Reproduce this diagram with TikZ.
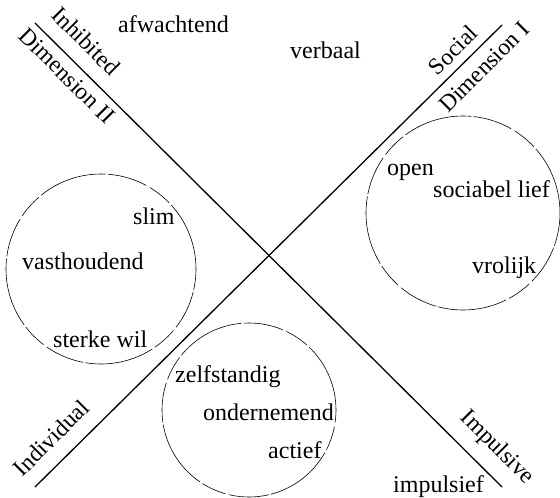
\documentclass[tikz,border=0pt]{standalone}
\usepackage{fontspec}
\setmainfont{Liberation Serif}
\begin{document}
\begin{tikzpicture}[x=1pt,y=-1pt,
  axis/.style={line width=1.3pt},
  ring/.style={circle,draw,line width=0.6pt,inner sep=0pt,
    dash pattern=on 70pt off 3pt on 25pt off 4pt on 40pt off 2pt},
  word/.style={anchor=base west,inner sep=0pt,font=\fontsize{24}{28}\selectfont},
  axlab/.style={inner sep=0pt,font=\fontsize{23.5}{27}\selectfont}]
\useasboundingbox (0,0) rectangle (560,498);
% axes
\coordinate (d2a) at (35,23);
\coordinate (d2b) at (502,487);
\coordinate (d1a) at (35,487);
\coordinate (d1b) at (502,25);
\draw[axis] (d2a) -- (d2b);
\draw[axis] (d1a) -- (d1b);
% circles
\node[ring,minimum size=194pt] (cr) at (463,213) {};
\node[ring,minimum size=190pt] (cl) at (101,269) {};
\node[ring,minimum size=174pt] (cb) at (249,410) {};
% axis labels
\node[axlab,rotate=-45] (inh) at (86,41) {Inhibited};
\node[axlab,rotate=-45] (dim2) at (67,76) {Dimension II};
\node[axlab,rotate=45] (soc) at (453,50) {Social};
\node[axlab,rotate=45] (dim1) at (484,67) {Dimension I};
\node[axlab,rotate=45] (ind) at (51,438) {Individual};
\node[axlab,rotate=-45] (imp) at (497,448) {Impulsive};
% words
\node[word] (w1) at (118,32) {afwachtend};
\node[word] (w2) at (290,58) {verbaal};
\node[word] (w3) at (387,175) {open};
\node[word] (w4) at (433,197) {sociabel lief};
\node[word] (w5) at (472,273) {vrolijk};
\node[word] (w6) at (133,224) {slim};
\node[word] (w7) at (22,269) {vasthoudend};
\node[word] (w8) at (53,347) {sterke wil};
\node[word] (w9) at (175,382) {zelfstandig};
\node[word] (w10) at (203,420) {ondernemend};
\node[word] (w11) at (268,458) {actief};
\node[word] (w12) at (393,492) {impulsief};
\end{tikzpicture}
\end{document}
